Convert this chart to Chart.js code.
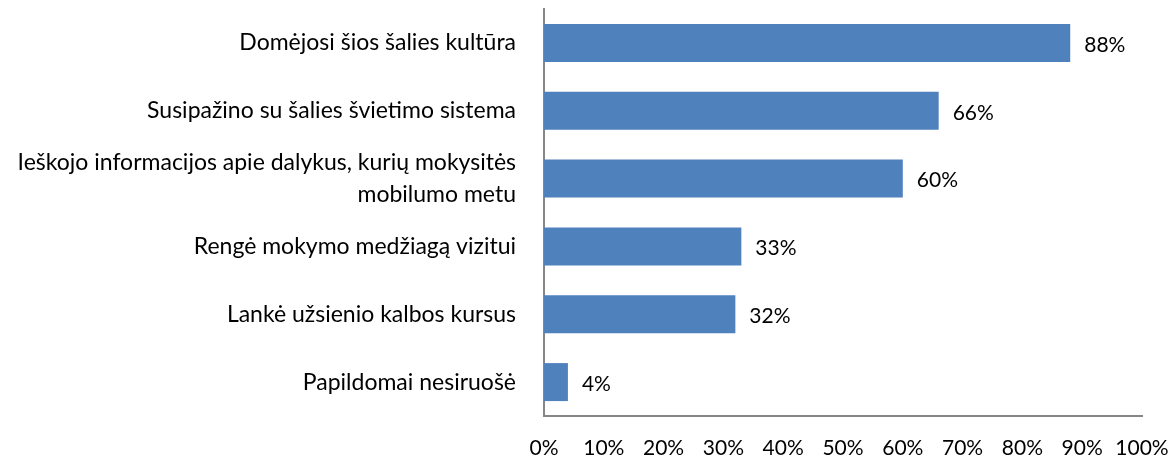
<!DOCTYPE html>
<html>
<head>
<meta charset="utf-8">
<script src="https://cdn.jsdelivr.net/npm/chart.js@4"></script>
<style>
  html, body { margin: 0; padding: 0; background: #fff; }
  #wrap { width: 1171px; height: 457px; }
</style>
</head>
<body>
<div id="wrap"><canvas id="myBarChart"></canvas></div>
<script>
const categories = [
  "Domėjosi šios šalies kultūra",
  "Susipažino su šalies švietimo sistema",
  ["Ieškojo informacijos apie dalykus, kurių mokysitės", "mobilumo metu"],
  "Rengė mokymo medžiagą vizitui",
  "Lankė užsienio kalbos kursus",
  "Papildomai nesiruošė"
];
const values = [88, 66, 60, 33, 32, 4];

// draw the value labels next to each bar
const valueLabels = {
  id: "valueLabels",
  afterDatasetsDraw(chart) {
    const ctx = chart.ctx;
    const meta = chart.getDatasetMeta(0);
    ctx.save();
    ctx.font = "21px Lato";
    ctx.fillStyle = "#000";
    ctx.textAlign = "left";
    ctx.textBaseline = "middle";
    meta.data.forEach((bar, i) => {
      ctx.fillText(values[i] + "%", bar.x + 14, bar.y + 2);
    });
    ctx.restore();
  },
};

const data1 = {
  labels: categories,
  datasets: [
    {
      data: values,
      backgroundColor: "#4F81BD",
      borderWidth: 0,
      categoryPercentage: 0.56,
      barPercentage: 1,
    },
  ],
};

const configure1 = {
  type: "bar",
  data: data1,
  plugins: [valueLabels],
  options: {
    indexAxis: "y",
    responsive: true,
    maintainAspectRatio: false,
    animation: false,
    layout: { padding: { top: 9, right: 29, bottom: 0, left: 0 } },
    plugins: {
      legend: false,
      tooltip: { enabled: false },
    },
    scales: {
      x: {
        min: 0,
        max: 100,
        ticks: {
          stepSize: 10,
          callback: (v) => v + "%",
          color: "#000",
          font: { family: "Lato", size: 21 },
          maxRotation: 0,
          padding: 12,
        },
        grid: { display: false },
        border: { display: true, color: "#868686", width: 2 },
        afterFit: (scale) => {
          scale.height = 41;
          scale.paddingLeft = 0;
          scale.paddingRight = 0;
        },
      },
      y: {
        ticks: {
          color: "#000",
          font: { family: "Lato", size: 23, lineHeight: 1.35 },
          padding: 20,
        },
        grid: { display: false },
        border: { display: true, color: "#868686", width: 2 },
        afterFit: (scale) => {
          scale.width = 544;
          scale.paddingTop = 0;
          scale.paddingBottom = 0;
        },
      },
    },
  },
};

const cntx1 = document.getElementById("myBarChart").getContext("2d");
new Chart(cntx1, configure1);
</script>
</body>
</html>
